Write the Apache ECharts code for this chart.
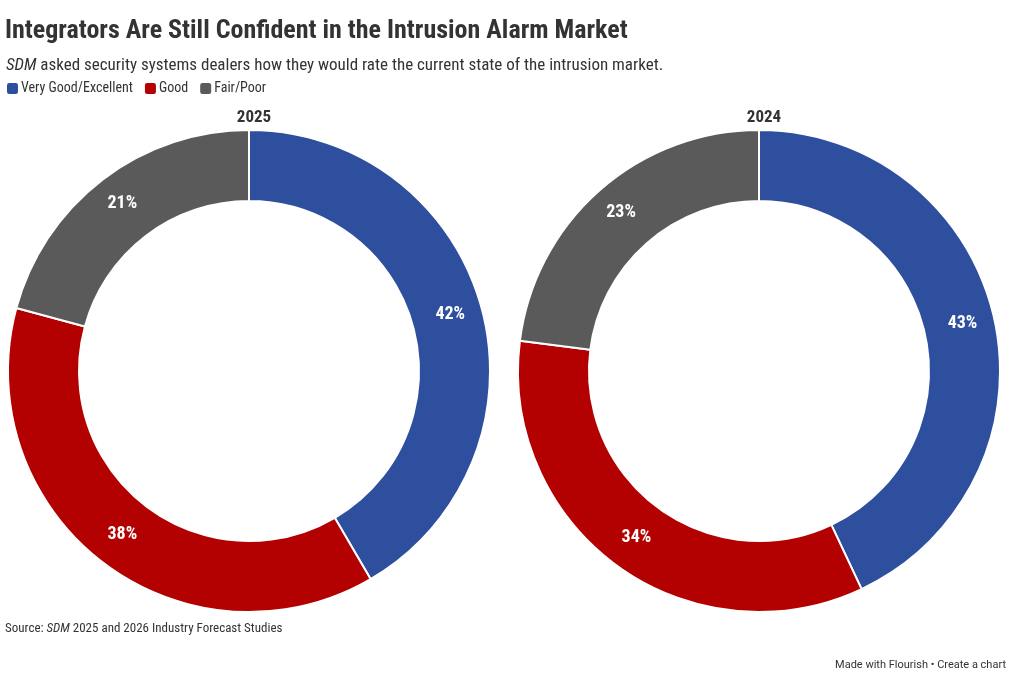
<!DOCTYPE html>
<html><head><meta charset="utf-8">
<script src="https://cdn.jsdelivr.net/npm/echarts@6/dist/echarts.min.js"></script>
<style>html,body{margin:0;padding:0;background:#fff}#c{width:1011px;height:675px}</style>
</head><body><div id="c"></div>
<script>
const categories = ['Very Good/Excellent', 'Good', 'Fair/Poor'];
const values2025 = [42, 38, 21];
const values2024 = [43, 34, 23];
const years = ['2025', '2024'];
const colors = ['#2e4f9e', '#b30000', '#5a5a5a'];
const FONT = '"Roboto Condensed","Liberation Sans Narrow",Roboto,sans-serif';

function pie(name, vals, cx) {
  return {
    type: 'pie', name: name, center: [cx, 371], radius: [170, 241],
    startAngle: 90, clockwise: true, avoidLabelOverlap: false,
    itemStyle: { borderColor: '#fff', borderWidth: 2 },
    label: { show: true, position: 'inside', formatter: '{c}%', color: '#fff',
      fontFamily: FONT, fontWeight: 'bold', fontSize: 18, offset: [0, -2] },
    labelLine: { show: false }, emphasis: { disabled: true },
    data: categories.map((c, i) => ({ name: c, value: vals[i] }))
  };
}
const chart = echarts.init(document.getElementById('c'));
chart.setOption({
  color: colors, animation: false,
  title: [
    { text: 'Integrators Are Still Confident in the Intrusion Alarm Market', left: 0, top: 13,
      textStyle: { fontFamily: FONT, fontWeight: 'bold', fontSize: 26, color: '#333' } },
    { text: '{i|SDM} asked security systems dealers how they would rate the current state of the intrusion market.', left: 1, top: 52,
      textStyle: { fontFamily: FONT, fontSize: 17, color: '#333', fontWeight: 'normal',
        rich: { i: { fontStyle: 'italic', fontFamily: FONT, fontSize: 17, color: '#333' } } } },
    { text: years[0], left: 249, textAlign: 'center', top: 104,
      textStyle: { fontFamily: FONT, fontWeight: 'bold', fontSize: 17, color: '#333' } },
    { text: years[1], left: 759, textAlign: 'center', top: 104,
      textStyle: { fontFamily: FONT, fontWeight: 'bold', fontSize: 17, color: '#333' } },
    { text: 'Source: {i|SDM} 2025 and 2026 Industry Forecast Studies', left: 0, top: 617,
      textStyle: { fontFamily: FONT, fontSize: 13, color: '#333', fontWeight: 'normal',
        rich: { i: { fontStyle: 'italic', fontFamily: FONT, fontSize: 13, color: '#333' } } } },
    { text: 'Made with Flourish • Create a chart', right: 0, top: 655,
      textStyle: { fontFamily: 'Roboto,sans-serif', fontSize: 11, color: '#333', fontWeight: 'normal' } }
  ],
  legend: { left: 0, top: 76, itemWidth: 13, itemHeight: 13, itemGap: 10,
    icon: 'roundRect', selectedMode: false,
    textStyle: { fontFamily: FONT, fontSize: 14, color: '#333', padding: [0, 0, 0, -3] },
    data: categories },
  series: [pie(years[0], values2025, 249), pie(years[1], values2024, 759)]
});
</script></body></html>
